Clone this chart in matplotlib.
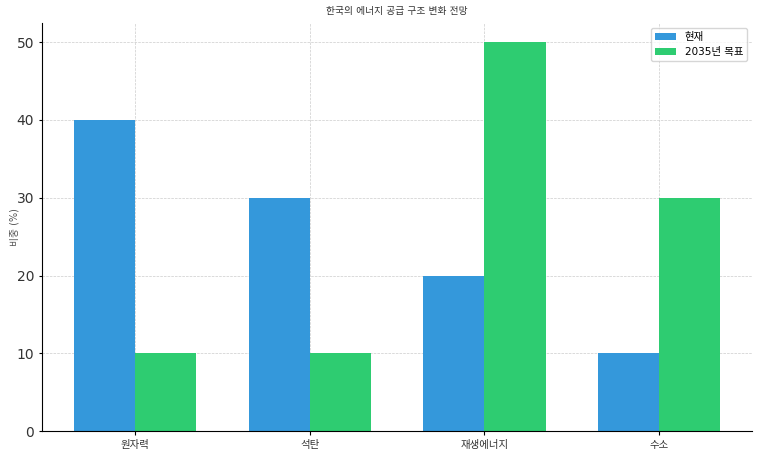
import matplotlib.pyplot as plt
import numpy as np

plt.rcParams['font.family'] = ['DejaVu Sans', 'Noto Sans CJK KR']

categories = ['원자력', '석탄', '재생에너지', '수소']
current = [40, 30, 20, 10]
target_2035 = [10, 10, 50, 30]

x = np.arange(len(categories))
width = 0.35

fig, ax = plt.subplots(figsize=(7.6, 4.53), dpi=100)
ax.bar(x - width/2, current, width, label='현재', color='#3498db')
ax.bar(x + width/2, target_2035, width, label='2035년 목표', color='#2ecc71')

ax.set_title('한국의 에너지 공급 구조 변화 전망', fontsize=7, color='#333333')
ax.set_ylabel('비중 (%)', fontsize=7, color='#555555')
ax.yaxis.set_label_coords(-0.032, 0.5)
ax.set_xticks(x)
ax.set_xticklabels(categories, fontsize=7.5)
ax.tick_params(axis='y', labelsize=10, labelcolor='#333333', length=2)
ax.tick_params(axis='x', labelcolor='#333333', length=3)
ax.grid(True, linestyle='--', linewidth=0.5, color='#cccccc')
ax.set_axisbelow(True)
ax.spines['top'].set_visible(False)
ax.spines['right'].set_visible(False)
ax.legend(fontsize=7.5, loc='upper right')

fig.subplots_adjust(left=0.055, right=0.99, top=0.95, bottom=0.048)
fig.savefig('out.png', dpi=100)
